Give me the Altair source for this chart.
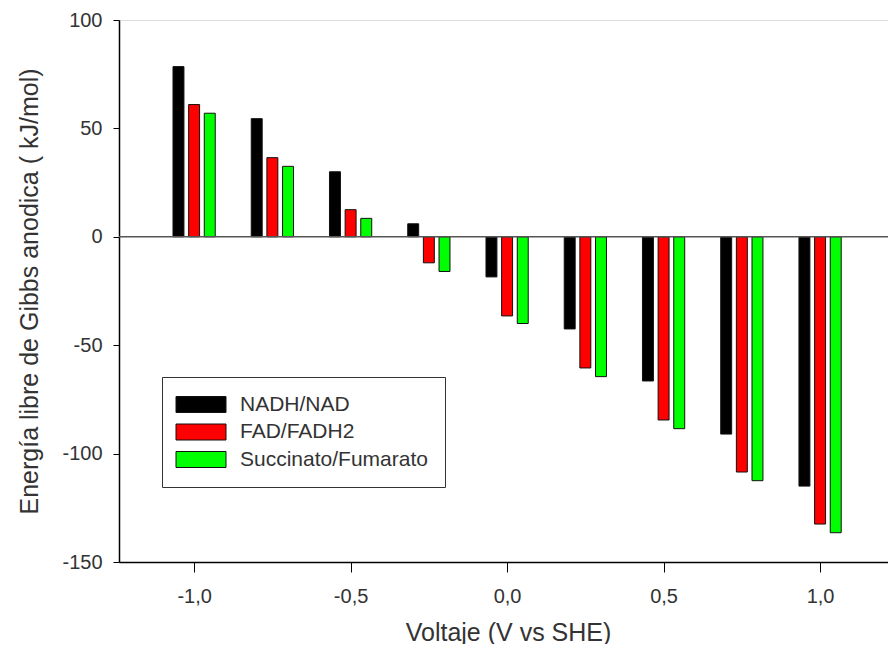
import altair as alt
import pandas as pd

voltajes = [-1.0, -0.75, -0.5, -0.25, 0.0, 0.25, 0.5, 0.75, 1.0]
nadh = [78.5, 54.5, 30.0, 6.0, -18.5, -42.5, -66.5, -91.0, -115.0]
fad = [61.0, 36.5, 12.5, -12.0, -36.5, -60.5, -84.5, -108.5, -132.5]
succ = [57.0, 32.5, 8.5, -16.0, -40.0, -64.5, -88.5, -112.5, -136.5]
series = ["NADH/NAD", "FAD/FADH2", "Succinato/Fumarato"]
colores = ["#000000", "#ff0000", "#00ff00"]
x_ticks = [-1.0, -0.5, 0.0, 0.5, 1.0]
y_ticks = [-150, -100, -50, 0, 50, 100]

rows = []
for orden, (nombre, vals) in enumerate(zip(series, [nadh, fad, succ])):
    for v, g in zip(voltajes, vals):
        rows.append({"V": v, "serie": nombre, "orden": orden, "G": g})
df = pd.DataFrame(rows)

FONT = "Liberation Sans"
TXT = "#333333"

xscale = alt.Scale(domain=[-1.24, 1.217], nice=False, zero=False)
yscale = alt.Scale(domain=[-150, 100], nice=False)

bars = alt.Chart(df).transform_calculate(
    x0="datum.V + (datum.orden - 1) * 0.05 - 0.0175",
    x1="datum.V + (datum.orden - 1) * 0.05 + 0.0175",
).mark_bar(stroke="#111111", strokeWidth=1).encode(
    x=alt.X(
        "x0:Q",
        scale=xscale,
        title="Voltaje (V vs SHE)",
        axis=alt.Axis(
            values=x_ticks,
            labelExpr="(datum.value < 0 ? '-' : '') + replace(format(abs(datum.value), '.1f'), '.', ',')",
            grid=False,
            tickSize=10,
            tickColor="#000000",
            domainColor="#000000",
            domainWidth=1.5,
            labelFontSize=20,
            labelPadding=14,
            labelColor=TXT,
            labelFont=FONT,
            titleFont=FONT,
            titleFontSize=25,
            titleFontWeight="normal",
            titleColor=TXT,
            titleX=389,
            titleY=70,
            titleBaseline="middle",
        ),
    ),
    x2="x1:Q",
    y=alt.Y(
        "G:Q",
        scale=yscale,
        title="Energía libre de Gibbs anodica ( kJ/mol)",
        axis=alt.Axis(
            values=y_ticks,
            labelExpr="toString(datum.value)",
            grid=False,
            tickSize=6,
            tickColor="#000000",
            domainColor="#000000",
            domainWidth=1.5,
            labelFontSize=20,
            labelPadding=11,
            labelColor=TXT,
            labelFont=FONT,
            titleFont=FONT,
            titleFontSize=25,
            titleFontWeight="normal",
            titleColor=TXT,
            titleX=-90,
            titleY=271,
            titleBaseline="middle",
        ),
    ),
    y2=alt.datum(0),
    color=alt.Color(
        "serie:N",
        scale=alt.Scale(domain=series, range=colores),
        title=None,
        legend=alt.Legend(
            orient="none",
            legendX=43,
            legendY=357,
            strokeColor="#333333",
            fillColor="#ffffff",
            padding=17,
            symbolType="M-3.125,-1H3.125V1H-3.125Z",
            symbolSize=256,
            symbolOffset=11.5,
            symbolStrokeColor="#111111",
            symbolStrokeWidth=1,
            labelOffset=28.5,
            labelFontSize=21,
            labelFont=FONT,
            labelColor=TXT,
            labelLimit=400,
            rowPadding=5.5,
        ),
    ),
)

zero = alt.Chart(pd.DataFrame({"y": [0]})).mark_rule(
    color="#555555", strokeWidth=1.5
).encode(y=alt.Y("y:Q", scale=yscale))

chart = alt.layer(bars, zero).properties(
    width=769,
    height=542,
    autosize=alt.AutoSizeParams(type="none"),
    padding={"left": 111, "top": 12, "right": 0, "bottom": 82},
).configure_view(
    stroke="#555555", strokeWidth=1.5
).configure(font=FONT)

chart.save("out.html", embed_options={"renderer": "svg", "actions": False})
